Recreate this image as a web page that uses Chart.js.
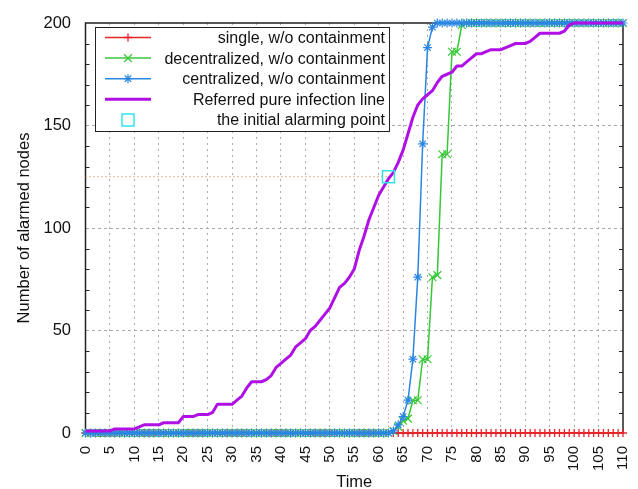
<!DOCTYPE html>
<html>
<head>
<meta charset="utf-8">
<script src="https://cdn.jsdelivr.net/npm/chart.js@4/dist/chart.umd.min.js"></script>
<style>
html,body{margin:0;padding:0;background:#fff;}
canvas{display:block;}
</style>
</head>
<body>
<canvas id="c" width="638" height="489"></canvas>
<script>
// ---------------- data ----------------
const time = [
  0,1,2,3,4,5,6,7,8,9,10,11,12,13,14,15,16,17,18,19,20,21,22,23,24,25,26,27,28,29,
  30,31,32,33,34,35,36,37,38,39,40,41,42,43,44,45,46,47,48,49,50,51,52,53,54,55,56,57,58,59,
  60,61,62,63,64,65,66,67,68,69,70,71,72,73,74,75,76,77,78,79,80,81,82,83,84,85,86,87,88,89,
  90,91,92,93,94,95,96,97,98,99,100,101,102,103,104,105,106,107,108,109,110
];
const singleNodes = [
  0,0,0,0,0,0,0,0,0,0, 0,0,0,0,0,0,0,0,0,0, 0,0,0,0,0,0,0,0,0,0,
  0,0,0,0,0,0,0,0,0,0, 0,0,0,0,0,0,0,0,0,0, 0,0,0,0,0,0,0,0,0,0,
  0,0,0,0,0,0,0,0,0,0, 0,0,0,0,0,0,0,0,0,0, 0,0,0,0,0,0,0,0,0,0,
  0,0,0,0,0,0,0,0,0,0, 0,0,0,0,0,0,0,0,0,0, 0
];
const decentralizedNodes = [
  0,0,0,0,0,0,0,0,0,0, 0,0,0,0,0,0,0,0,0,0, 0,0,0,0,0,0,0,0,0,0,
  0,0,0,0,0,0,0,0,0,0, 0,0,0,0,0,0,0,0,0,0, 0,0,0,0,0,0,0,0,0,0,
  0,0,0,1,3,6,7,16,16,36, 36,76,77,136,136,186,186,199,200,200, 200,200,200,200,200,200,200,200,200,200,
  200,200,200,200,200,200,200,200,200,200, 200,200,200,200,200,200,200,200,200,200, 200
];
const centralizedNodes = [
  0,0,0,0,0,0,0,0,0,0, 0,0,0,0,0,0,0,0,0,0, 0,0,0,0,0,0,0,0,0,0,
  0,0,0,0,0,0,0,0,0,0, 0,0,0,0,0,0,0,0,0,0, 0,0,0,0,0,0,0,0,0,0,
  0,0,0,1,4,8,16,36,76,141, 188,198,200,200,200,200,200,200,200,200, 200,200,200,200,200,200,200,200,200,200,
  200,200,200,200,200,200,200,200,200,200, 200,200,200,200,200,200,200,200,200,200, 200
];
const pureInfection = [
  1,1,1,1,1,1,2,2,2,2, 2,3,4,4,4,4,5,5,5,5, 8,8,8,9,9,9,10,14,14,14,
  14,16,18,22,25,25,25,26,28,32, 34,36,38,42,44,46,50,52,55,58, 61,66,71,73,76,80,89,96,104,110,
  116,120,124,127,132,138,146,154,160,163, 165,167,171,174,175,176,179,179,181,183, 185,185,186,187,187,187,188,189,190,190,
  190,191,193,195,195,195,195,195,196,199, 200,200,200,200,200,200,200,200,200,200, 200
];
const alarmTime = [62];
const alarmNodes = [125];

const xTicks = [0,5,10,15,20,25,30,35,40,45,50,55,60,65,70,75,80,85,90,95,100,105,110];
const yTicks = [0,50,100,150,200];
const yMinorTicks = [10,20,30,40,60,70,80,90,110,120,130,140,160,170,180,190];

const seriesLabels = [
  'single, w/o containment',
  'decentralized, w/o containment',
  'centralized, w/o containment',
  'Referred pure infection line',
  'the initial alarming point'
];

// ---------------- chart ----------------
const FONT = "'Liberation Sans', Arial, Helvetica, sans-serif";
Chart.defaults.font.family = FONT;
Chart.defaults.color = '#111';

const pts = (xs, ys) => xs.map((t, i) => ({x: t, y: ys[i]}));

const RED = '#e8262b', GREEN = '#36c836', BLUE = '#2a86e4', PURPLE = '#b010e6', CYAN = '#30e4e4', ORANGE = '#dc6a35';

const guide = [
  {x: 0, y: alarmNodes[0]},
  {x: alarmTime[0], y: alarmNodes[0]},
  {x: alarmTime[0], y: 0}
];

const framePlugin = {
  id: 'frame',
  beforeDatasetsDraw(chart) {
    const {ctx, chartArea: a, scales: {y}} = chart;
    ctx.save();
    ctx.strokeStyle = '#222';
    ctx.lineWidth = 1.5;
    ctx.strokeRect(a.left, a.top, a.right - a.left, a.bottom - a.top);
    ctx.lineWidth = 1;
    ctx.beginPath();
    yMinorTicks.forEach(v => {
      const p = Math.round(y.getPixelForValue(v)) + 0.5;
      ctx.moveTo(a.left, p); ctx.lineTo(a.left + 4, p);
      ctx.moveTo(a.right, p); ctx.lineTo(a.right - 4, p);
    });
    ctx.stroke();
    ctx.restore();
  },
  afterDatasetsDraw(chart) {
    const {ctx, chartArea: a} = chart;
    const bx = a.left + 9.5, by = a.top + 4, bw = 294, bh = 104;
    ctx.save();
    ctx.fillStyle = '#fff';
    ctx.fillRect(bx, by, bw, bh);
    ctx.strokeStyle = '#222';
    ctx.lineWidth = 1;
    ctx.strokeRect(bx + 0.5, by + 0.5, bw, bh);
    ctx.font = "16px " + FONT;
    ctx.textAlign = 'right';
    ctx.textBaseline = 'middle';
    for (let i = 0; i < 5; i++) {
      const ds = chart.data.datasets[i];
      const yy = by + 10.5 + i * 20.6;
      const x0 = bx + 10, x1 = bx + 56, xm = bx + 33;
      if (ds.showLine !== false) {
        ctx.strokeStyle = ds.borderColor;
        ctx.lineWidth = ds.borderWidth;
        ctx.beginPath(); ctx.moveTo(x0, yy); ctx.lineTo(x1, yy); ctx.stroke();
      }
      if (ds.pointRadius > 0) {
        ctx.strokeStyle = ds.pointBorderColor || ds.borderColor;
        ctx.fillStyle = 'rgba(0,0,0,0)';
        ctx.lineWidth = ds.pointBorderWidth || 1;
        Chart.helpers.drawPoint(ctx, {pointStyle: ds.pointStyle, radius: ds.pointRadius, rotation: 0, borderWidth: ds.pointBorderWidth || 1}, xm, yy);
      }
      ctx.fillStyle = '#111';
      ctx.fillText(seriesLabels[i], bx + 290, yy + 1);
    }
    ctx.restore();
  }
};

new Chart(document.getElementById('c'), {
  type: 'line',
  data: {
    datasets: [
      {label: seriesLabels[0], data: pts(time, singleNodes), borderColor: RED, backgroundColor: RED,
       borderWidth: 1.5, pointStyle: 'cross', pointRadius: 4, pointBorderWidth: 1.3, pointBorderColor: RED, order: 5},
      {label: seriesLabels[1], data: pts(time, decentralizedNodes), borderColor: GREEN, backgroundColor: GREEN,
       borderWidth: 1.5, pointStyle: 'crossRot', pointRadius: 5.5, pointBorderWidth: 1.2, pointBorderColor: GREEN, order: 4},
      {label: seriesLabels[2], data: pts(time, centralizedNodes), borderColor: BLUE, backgroundColor: BLUE,
       borderWidth: 1.5, pointStyle: 'star', pointRadius: 4.5, pointBorderWidth: 1.2, pointBorderColor: BLUE, order: 3},
      {label: seriesLabels[3], data: pts(time, pureInfection), borderColor: PURPLE, backgroundColor: PURPLE,
       borderWidth: 3, pointRadius: 0, borderJoinStyle: 'round', order: 2},
      {label: seriesLabels[4], data: pts(alarmTime, alarmNodes), showLine: false, borderColor: CYAN,
       backgroundColor: 'rgba(0,0,0,0)', pointStyle: 'rect', pointRadius: 8.5, pointBorderWidth: 1.5, pointBorderColor: CYAN, order: 1},
      {label: '_guide', data: guide, borderColor: ORANGE, borderWidth: 1, borderDash: [1, 3], pointRadius: 0, order: 6}
    ]
  },
  options: {
    responsive: false,
    animation: false,
    devicePixelRatio: 1,
    layout: {padding: {left: 0, right: 15, top: 23, bottom: 0}},
    datasets: {line: {clip: false, tension: 0}},
    plugins: {legend: {display: false}, tooltip: {enabled: false}},
    scales: {
      x: {
        type: 'linear', min: 0, max: 110,
        afterBuildTicks: s => { s.ticks = xTicks.map(v => ({value: v})); },
        afterFit: s => { s.height = 56; s.paddingLeft = 0; s.paddingRight = 0; },
        ticks: {autoSkip: false, maxRotation: 90, minRotation: 90, padding: 13, color: '#111', font: {size: 15}},
        grid: {drawTicks: false, lineWidth: 1,
               color: c => (c.tick && (c.tick.value === 0 || c.tick.value === 110)) ? 'rgba(0,0,0,0)' : '#ababab'},
        border: {display: false, dash: [2, 4]},
        title: {display: true, text: 'Time', color: '#111', padding: {top: 0, bottom: 0}, font: {size: 16.5, lineHeight: 0.8}}
      },
      y: {
        type: 'linear', min: 0, max: 200,
        afterBuildTicks: s => { s.ticks = yTicks.map(v => ({value: v})); },
        afterFit: s => { s.width = 85.5; s.paddingTop = 0; s.paddingBottom = 0; },
        ticks: {padding: 14.5, color: '#111', font: {size: 16.5}},
        grid: {drawTicks: false, lineWidth: 1,
               color: c => (c.tick && (c.tick.value === 0 || c.tick.value === 200)) ? 'rgba(0,0,0,0)' : '#ababab'},
        border: {display: false, dash: [3, 3]},
        title: {display: true, text: 'Number of alarmed nodes', color: '#111', padding: {top: 15, bottom: 0}, font: {size: 16.5}}
      }
    }
  },
  plugins: [framePlugin]
});
</script>
</body>
</html>
